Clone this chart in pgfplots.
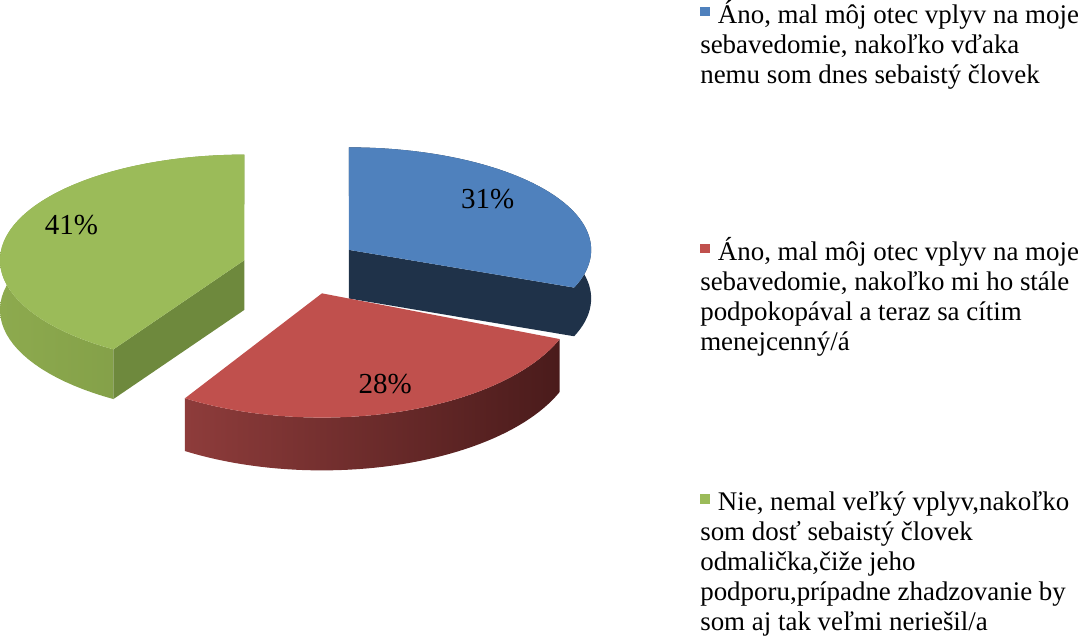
\documentclass[border=0pt]{standalone}
\usepackage{fontspec}
\setmainfont{Liberation Serif}
\usepackage{pgfplots}
\usepackage{pgfplotstable}
\pgfplotsset{compat=1.18}

\definecolor{blueT}{HTML}{4F81BD}
\definecolor{blueS}{HTML}{1F3249}
\definecolor{redT}{HTML}{C0504D}
\definecolor{redL}{HTML}{8E3C3B}
\definecolor{redR}{HTML}{4A1B1B}
\definecolor{greenT}{HTML}{9BBB59}
\definecolor{greenL}{HTML}{8DAA4E}
\definecolor{greenR}{HTML}{7A9643}
\definecolor{greenC}{HTML}{6E893D}

% shares in percent
\pgfplotstableread{
share
31
28
41
}\piedata

% top face: cx cy rx ry a1 a2 colour
\newcommand\pietop[7]{%
  \addplot[fill=#7, draw=none, domain=#5:#6, samples=90, variable=\t]
    ({#1+#3*sin(\t)}, {#2-#4*cos(\t)}) -- (axis cs:#1,#2) -- cycle;}
% outer side band: cx cy rx ry depth a1 a2 style
\newcommand\pieside[8]{%
  \addplot[draw=none, #8, samples at={0,1,...,50,50.001,51,52,...,100}, variable=\t]
    ({#1+#3*sin(#6+min(\t,100-\t)/50*(#7-#6))},
     {#2-#4*cos(#6+min(\t,100-\t)/50*(#7-#6))+#5*(\t>50)}) -- cycle;}
\newcommand\sq[1]{\textcolor{#1}{\raisebox{3.5pt}{\rule{4.5pt}{4.5pt}}}\hspace{4pt}}

\begin{document}
\begin{tikzpicture}
\pgfplotstablegetelem{0}{share}\of\piedata \let\sA\pgfplotsretval
\pgfplotstablegetelem{1}{share}\of\piedata \let\sB\pgfplotsretval
\pgfplotstablegetelem{2}{share}\of\piedata \let\sC\pgfplotsretval
\pgfmathsetmacro\aA{0}
\pgfmathsetmacro\aB{3.6*\sA}
\pgfmathsetmacro\aC{3.6*(\sA+\sB)}
\pgfmathsetmacro\aD{3.6*(\sA+\sB+\sC)}
% cut faces (blue end, green start)
\pgfmathsetmacro\bx{348+234*sin(\aB)}\pgfmathsetmacro\by{248-99*cos(\aB)}
\pgfmathsetmacro\byd{\by+47}
\pgfmathsetmacro\gx{247+236*sin(\aC)}\pgfmathsetmacro\gy{258-102*cos(\aC)}
\pgfmathsetmacro\gyd{\gy+48}
\begin{axis}[
  width=539.5pt, height=311.5pt, scale only axis,
  xmin=0, xmax=1079, ymin=0, ymax=623, y dir=reverse,
  axis lines=none, xtick=\empty, ytick=\empty, clip=false,
]
% blue slice
\pieside{348}{248}{234}{99}{47}{\aA}{\aB}{fill=blueS}
\addplot[fill=blueS, draw=none] coordinates {(348,248) (\bx,\by) (\bx,\byd) (348,295)} -- cycle;
\pietop{348}{248}{234}{99}{\aA}{\aB}{blueT}
% green slice
\pieside{247}{258}{236}{102}{48}{\aC}{\aD}{left color=greenL, right color=greenR}
\addplot[fill=greenC, draw=none] coordinates {(247,258) (\gx,\gy) (\gx,\gyd) (247,306)} -- cycle;
\pietop{247}{258}{236}{102}{\aC}{\aD}{greenT}
% red slice
\pieside{322}{290}{247}{120}{51}{\aB}{\aC}{left color=redL, right color=redR}
\pietop{322}{290}{247}{120}{\aB}{\aC}{redT}

\node[font=\fontsize{14}{16}\selectfont] at (axis cs:482,199) {\sA\%};
\node[font=\fontsize{14}{16}\selectfont] at (axis cs:383,378) {\sB\%};
\node[font=\fontsize{14}{16}\selectfont] at (axis cs:80,224) {\sC\%};

% legend (anchored at the baseline of the last line)
\node[anchor=base west, align=left, inner sep=0pt, font=\fontsize{13}{14.5}\selectfont]
  at (axis cs:687,87) {\sq{blueT}Áno, mal môj otec vplyv na moje\\sebavedomie, nakoľko vďaka\\nemu som dnes sebaistý človek};
\node[anchor=base west, align=left, inner sep=0pt, font=\fontsize{13}{14.5}\selectfont]
  at (axis cs:687,345) {\sq{redT}Áno, mal môj otec vplyv na moje\\sebavedomie, nakoľko mi ho stále\\podpokopával a teraz sa cítim\\menejcenný/á};
\node[anchor=base west, align=left, inner sep=0pt, font=\fontsize{13}{14.5}\selectfont]
  at (axis cs:687,616) {\sq{greenT}Nie, nemal veľký vplyv,nakoľko\\som dosť sebaistý človek\\odmalička,čiže jeho\\podporu,prípadne zhadzovanie by\\som aj tak veľmi neriešil/a};
\end{axis}
\end{tikzpicture}
\end{document}
